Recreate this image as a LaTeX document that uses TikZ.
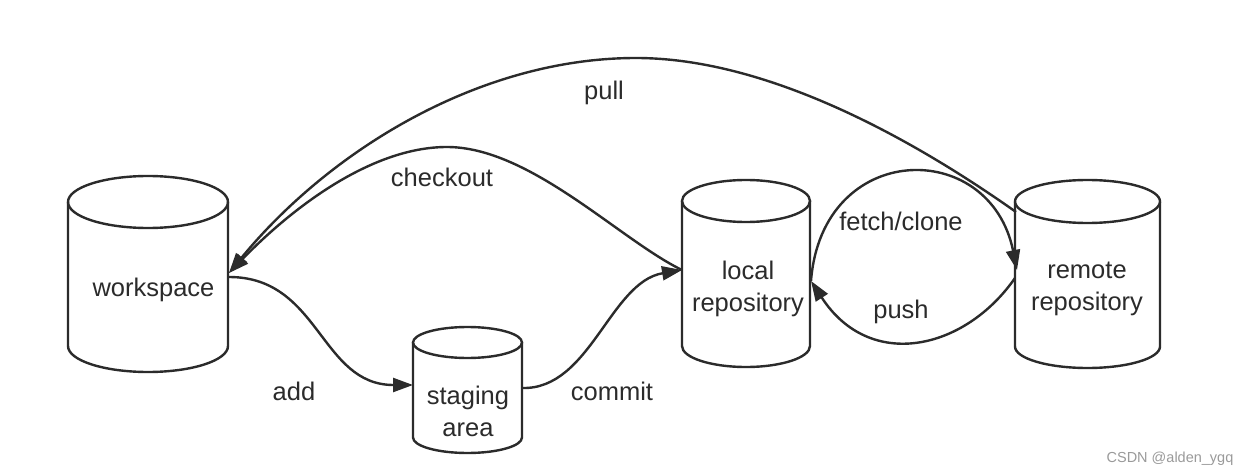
\documentclass[tikz,border=0pt]{standalone}
\usepackage{fontspec}
\setmainfont{Liberation Sans}
\usetikzlibrary{arrows.meta}
\definecolor{ink}{HTML}{2B2B2B}
\definecolor{wm}{HTML}{9A9A9A}
\tikzset{
  cylline/.style={draw=ink, line width=2.4pt},
  conn/.style={draw=ink, line width=2.4pt, -{Triangle[length=20pt,width=14pt]}},
  lbl/.style={text=ink, font=\fontsize{25.5pt}{32pt}\selectfont, inner sep=0pt, align=center},
}
\begin{document}
\begin{tikzpicture}[x=1pt,y=-1pt]
\useasboundingbox[fill=white] (0,0) rectangle (1240,476);
% cylinders
\draw[cylline] (148,202) ellipse[x radius=80pt, y radius=26pt];
\draw[cylline] (68,202) -- (68,346) arc[start angle=180,end angle=360,x radius=80pt,y radius=26pt] -- (228,202);
\draw[cylline] (467.5,342.5) ellipse[x radius=54.5pt, y radius=15.5pt];
\draw[cylline] (413,342.5) -- (413,437.5) arc[start angle=180,end angle=360,x radius=54.5pt,y radius=15.5pt] -- (522,342.5);
\draw[cylline] (746,201) ellipse[x radius=64pt, y radius=21pt];
\draw[cylline] (682,201) -- (682,346) arc[start angle=180,end angle=360,x radius=64pt,y radius=21pt] -- (810,201);
\draw[cylline] (1087.5,201.5) ellipse[x radius=72.5pt, y radius=21.5pt];
\draw[cylline] (1015,201.5) -- (1015,346.5) arc[start angle=180,end angle=360,x radius=72.5pt,y radius=21.5pt] -- (1160,201.5);
% texts
\node[lbl] (ws) at (153.5,290) {workspace};
\node[lbl] (st) at (468,411) {staging\\area};
\node[lbl] (lr) at (748,289) {local\\repository};
\node[lbl] (rr) at (1087,289) {remote\\repository};
% connection points
\coordinate (wsR) at (229,273);
\coordinate (wsA) at (229,277);
\coordinate (stL) at (413,385);
\coordinate (stR) at (522,388);
\coordinate (lrL) at (682,270);
\coordinate (lrR) at (811,281);
\coordinate (rrT) at (1016,212);
\coordinate (rrL) at (1017,270);
\coordinate (rrP) at (1015,278);
% connectors
\draw[conn] (wsA) .. controls (320,277) and (320,385) .. (stL);
\draw[conn] (stR) .. controls (590,390) and (610,282) .. (lrL);
\draw[conn] (lrL) .. controls (620,240) and (530,147) .. (447,147) .. controls (370,147) and (290,210) .. (wsR);
\draw[conn] (rrT) .. controls (900,130) and (760,58) .. (636,58) .. controls (480,58) and (330,150) .. (wsR);
\draw[conn] (lrR) .. controls (822,140) and (990,137) .. (rrL);
\draw[conn] (rrP) .. controls (965,350) and (870,372) .. (lrR);
% edge labels
\node[lbl] (lpull) at (604,93) {pull};
\node[lbl] (lco) at (442,177) {checkout};
\node[lbl] (lfc) at (901,221) {fetch/clone};
\node[lbl] (lpush) at (901,312) {push};
\node[lbl] (ladd) at (294,391) {add};
\node[lbl] (lcommit) at (612,391) {commit};
\node[text=wm, font=\fontsize{14.5pt}{16pt}\selectfont, inner sep=0pt] (wmk) at (1170,459) {CSDN @alden\_ygq};
\end{tikzpicture}
\end{document}
